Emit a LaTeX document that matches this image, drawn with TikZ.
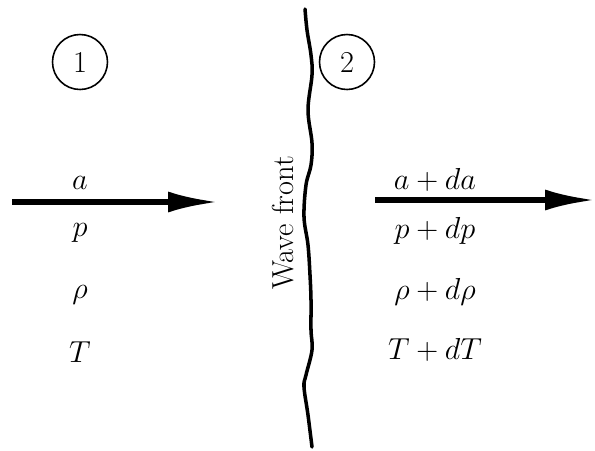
\documentclass[tikz,border=0pt]{standalone}
\usepackage{amsmath,amssymb}
\usepackage{tikz}
\usetikzlibrary{arrows.meta,positioning,calc}
\tikzset{
  Zone/.style={draw, circle, line width=0.9pt, minimum size=1.1cm, inner sep=0pt,
               font=\LARGE},
  Qlab/.style={font=\LARGE, inner sep=1pt},
  Farr/.style={-{Latex[length=1.0cm, width=0.42cm]}, line width=3pt},
  Wfront/.style={line width=2pt, line join=round, line cap=round}
}
\begin{document}
\begin{tikzpicture}
  \useasboundingbox (0,0) rectangle (11.9,-9);

  \node[Zone] (z1) at (1.6,-1.24) {1};
  \node[Zone] (z2) at (6.94,-1.24) {2};

  % upstream side
  \coordinate (in1) at (0.24,-4.04);
  \coordinate (in2) at (4.36,-4.04);
  \draw[Farr] (in1)--(in2);
  \node[Qlab] (a1) at (1.6,-3.66) {$a$};
  \node[Qlab] (p1) at (1.6,-4.66) {$p$};
  \node[Qlab] (r1) at (1.6,-5.9) {$\rho$};
  \node[Qlab] (T1) at (1.6,-7.04) {$T$};

  % wave front
  \draw[Wfront] plot[smooth, tension=0.6] coordinates {
    (6.10,-0.18) (6.14,-0.6) (6.22,-1.1) (6.24,-1.5) (6.16,-2.2)
    (6.24,-2.86) (6.22,-3.3) (6.12,-3.7) (6.08,-4.34) (6.16,-4.9)
    (6.20,-5.5) (6.22,-6.0) (6.22,-6.6) (6.24,-7.0) (6.12,-7.5)
    (6.08,-7.74) (6.16,-8.3) (6.24,-8.94)};
  \node[font=\LARGE, rotate=90] (wf) at (5.66,-4.46) {Wave front};

  % downstream side
  \coordinate (out1) at (7.5,-4.0);
  \coordinate (out2) at (11.9,-4.0);
  \draw[Farr] (out1)--(out2);
  \node[Qlab] (a2) at (8.7,-3.6) {$a+da$};
  \node[Qlab] (p2) at (8.7,-4.62) {$p+dp$};
  \node[Qlab] (r2) at (8.7,-5.84) {$\rho+d\rho$};
  \node[Qlab] (T2) at (8.7,-7.0) {$T+dT$};
\end{tikzpicture}
\end{document}
